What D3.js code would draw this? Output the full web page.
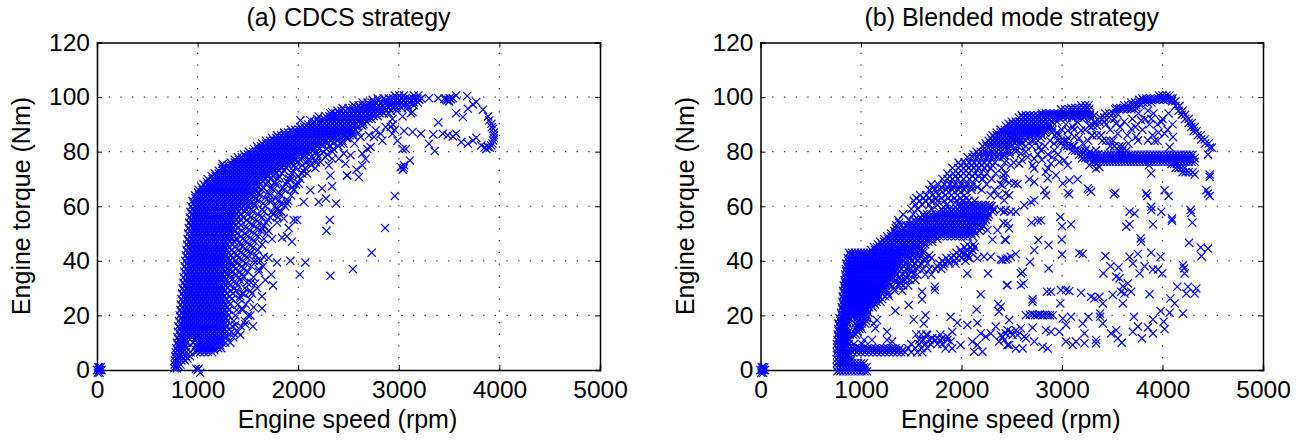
<!DOCTYPE html>
<html>
<head>
<meta charset="utf-8">
<script src="https://cdn.jsdelivr.net/npm/d3@7"></script>
<style>
html, body { margin: 0; padding: 0; background: #fff; }
svg { display: block; }
text { font-family: "Liberation Sans", Arial, sans-serif; fill: #000; }
</style>
</head>
<body>
<svg id="chart" width="1306" height="442"></svg>
<script>
var xTicks = [0, 1000, 2000, 3000, 4000, 5000];
var yTicks = [0, 20, 40, 60, 80, 100, 120];
var xLabel = "Engine speed (rpm)";
var yLabel = "Engine torque (Nm)";
var titleA = "(a) CDCS strategy";
var titleB = "(b) Blended mode strategy";

// engine-off points sit at the origin and near idle
var cdcsOrigin = [[0,0],[12,1],[25,-1],[30,0],[8,-1],[38,1],[18,0],[45,0],[22,1],[985,0.5],[1000,0],[1025,-1],[1010,0.5]];

// solid part of the map, read row by row: [torque, [speeds]]
var cdcsRows = [
[0.6,[770,795]],
[2,[772,798,830]],
[3.5,[775,805,838,875]],
[5,[778,810,845,885,925]],
[6.5,[782,815,850,885,930,985,1025,1065,1105,1145]],
[8,[788,820,855,890,965,1005,1045,1085,1125,1165,1205,1235]],
[10,[795,828,862,892,958,998,1040,1080,1120,1160,1200,1240,1275,1325]],
[12,[800,835,870,905,945,985,1025,1065,1105,1145,1185,1225,1265,1295,1355]],
[14,[805,845,885,925,965,1005,1045,1085,1125,1165,1205,1245,1285,1335,1400]],
[16,[810,840,880,920,960,1000,1040,1080,1120,1160,1200,1240,1285,1345,1430]],
[18,[815,855,895,935,975,1015,1055,1095,1135,1175,1215,1255,1295,1360,1470]],
[20,[822,860,900,940,980,1020,1060,1100,1140,1180,1220,1260,1305,1375,1500]],
[22,[828,868,908,948,988,1028,1068,1108,1148,1188,1228,1268,1310,1390,1445]],
[24,[834,874,914,954,994,1034,1074,1114,1154,1194,1234,1274,1320,1400,1480]],
[26,[840,880,920,960,1000,1040,1080,1120,1160,1200,1240,1280,1340,1420,1520]],
[28,[846,886,926,966,1006,1046,1086,1126,1166,1206,1246,1290,1350,1445,1540]],
[30,[852,892,932,972,1012,1052,1092,1132,1172,1212,1252,1300,1365,1470,1590]],
[32,[858,898,938,978,1018,1058,1098,1138,1178,1218,1258,1310,1385,1490,1530]],
[34,[862,902,942,982,1022,1062,1102,1142,1182,1222,1262,1330,1410,1460,1555]],
[36,[868,908,948,988,1028,1068,1108,1148,1188,1228,1268,1340,1420,1500,1610]],
[38,[872,912,952,992,1032,1072,1112,1152,1192,1232,1272,1350,1440,1535,1650]],
[40,[878,918,958,998,1038,1078,1118,1158,1198,1238,1278,1320,1380,1450,1560,1625]],
[42,[884,924,964,1004,1044,1084,1124,1164,1204,1244,1284,1330,1395,1470,1580]],
[44,[890,930,970,1010,1050,1090,1130,1170,1210,1250,1290,1340,1410,1490,1600]],
[46,[895,935,975,1015,1055,1095,1135,1175,1215,1255,1295,1350,1430,1515,1640]],
[48,[900,940,980,1020,1060,1100,1140,1180,1220,1260,1300,1340,1380,1450,1540,1660]],
[50,[906,946,986,1026,1066,1106,1146,1186,1226,1266,1306,1346,1390,1470,1565,1685]],
[52,[912,952,992,1032,1072,1112,1152,1192,1232,1272,1312,1352,1400,1490,1590,1640]],
[54,[918,958,998,1038,1078,1118,1158,1198,1238,1278,1318,1358,1410,1510,1615,1680,1790]],
[56,[922,962,1002,1042,1082,1122,1162,1202,1242,1282,1322,1362,1402,1450,1530,1640,1720,1800]],
[58,[928,968,1008,1048,1088,1128,1168,1208,1248,1288,1328,1368,1408,1470,1550,1660,1740,1830]],
[60,[935,975,1015,1055,1095,1135,1175,1215,1255,1295,1335,1375,1415,1455,1495,1570,1680,1770,1870]],
[62,[950,990,1030,1070,1110,1150,1190,1230,1270,1310,1350,1390,1430,1470,1510,1600,1710,1800,1900]],
[64,[975,1015,1055,1095,1135,1175,1215,1255,1295,1335,1375,1415,1455,1495,1535,1620,1720,1830,1930]],
[66,[1010,1050,1090,1130,1170,1210,1250,1290,1330,1370,1410,1450,1490,1530,1570,1640,1750,1860,1960]],
[68,[1060,1100,1140,1180,1220,1260,1300,1340,1380,1420,1460,1500,1540,1580,1620,1680,1780,1880,1980]],
[70,[1100,1150,1190,1230,1270,1310,1350,1390,1430,1470,1510,1550,1590,1630,1670,1720,1800,1910,2020]],
[72,[1170,1210,1250,1290,1330,1370,1410,1450,1490,1530,1570,1610,1650,1690,1730,1770,1840,1940,2040]],
[74,[1245,1275,1310,1350,1390,1430,1470,1510,1550,1590,1630,1670,1710,1750,1790,1830,1880,1970,2070,2170]],
[76,[1330,1370,1410,1450,1490,1530,1570,1610,1650,1690,1730,1770,1810,1850,1890,1930,1990,2080,2180]],
[78,[1400,1440,1480,1520,1560,1600,1640,1680,1720,1760,1800,1840,1880,1920,1960,2000,2050,2130,2200,2270]],
[80,[1510,1550,1590,1630,1670,1710,1750,1790,1830,1870,1910,1950,1990,2030,2070,2110,2180,2250,2340]],
[82,[1590,1630,1670,1710,1750,1790,1830,1870,1910,1950,1990,2030,2070,2110,2150,2190,2240,2310,2400]],
[84,[1680,1720,1760,1800,1840,1880,1920,1960,2000,2040,2080,2120,2160,2200,2240,2280,2330,2390,2440]],
[86,[1790,1830,1870,1910,1950,1990,2030,2070,2110,2150,2190,2230,2270,2310,2350,2390,2430,2470,2510,2550]],
[88,[1930,1970,2010,2050,2090,2130,2170,2210,2250,2290,2330,2370,2410,2450,2490,2530,2570]],
[90,[2100,2140,2180,2220,2260,2300,2340,2380,2420,2460,2500,2540,2580,2620,2650]],
[92,[2190,2260,2300,2340,2380,2420,2460,2500,2540,2580,2620,2660,2700,2730]],
[94,[2320,2370,2410,2450,2490,2530,2570,2610,2650,2690,2730,2770,2810,2850,2900]],
[96,[2440,2500,2540,2580,2620,2660,2700,2740,2780,2820,2860,2900,2940,2980,3030,3090]],
[98,[2640,2690,2730,2770,2820,2870,2910,2950,2990,3030,3070,3110,3150,3190]],
[99.5,[2790,2850,2900,2945,2985,3025,3065,3105,3145,3185,3225]],
[100.6,[2960,3005,3050,3150,3195]]
];

// in-between rows, where the crosses overlap into a solid area
var cdcsCoreRows = [
[1.3,[785,812]],
[4.2,[790,820,855,900]],
[7.3,[800,835,870,1005,1045,1085,1125,1165]],
[9,[808,842,875,985,1025,1065,1105,1145,1185,1225]],
[11,[815,850,880,975,1015,1055,1095,1135,1175,1215,1255]],
[13,[825,865,905,945,985,1025,1065,1105,1145,1185,1225,1265]],
[15,[830,870,910,950,990,1030,1070,1110,1150,1190,1230,1270]],
[17,[835,875,915,955,995,1035,1075,1115,1155,1195,1235,1275]],
[19,[840,880,920,960,1000,1040,1080,1120,1160,1200,1240,1280]],
[21,[845,885,925,965,1005,1045,1085,1125,1165,1205,1245,1290]],
[23,[850,890,930,970,1010,1050,1090,1130,1170,1210,1250,1295]],
[25,[858,898,938,978,1018,1058,1098,1138,1178,1218,1258,1310]],
[27,[863,903,943,983,1023,1063,1103,1143,1183,1223,1263,1320]],
[29,[868,908,948,988,1028,1068,1108,1148,1188,1228,1268,1330,1385]],
[31,[875,915,955,995,1035,1075,1115,1155,1195,1235,1275,1320,1400]],
[33,[880,920,960,1000,1040,1080,1120,1160,1200,1240,1280,1340,1420]],
[35,[885,925,965,1005,1045,1085,1125,1165,1205,1245,1285,1325,1370,1440]],
[37,[890,930,970,1010,1050,1090,1130,1170,1210,1250,1290,1330,1380,1460]],
[39,[895,935,975,1015,1055,1095,1135,1175,1215,1255,1295,1335,1395,1480]],
[41,[900,940,980,1020,1060,1100,1140,1180,1220,1260,1300,1350,1410,1500]],
[43,[907,947,987,1027,1067,1107,1147,1187,1227,1267,1307,1360,1430,1530]],
[45,[912,952,992,1032,1072,1112,1152,1192,1232,1272,1312,1370,1450,1550]],
[47,[917,957,997,1037,1077,1117,1157,1197,1237,1277,1317,1365,1420,1480,1570]],
[49,[923,963,1003,1043,1083,1123,1163,1203,1243,1283,1323,1363,1430,1500,1600]],
[51,[929,969,1009,1049,1089,1129,1169,1209,1249,1289,1329,1369,1440,1520,1630]],
[53,[935,975,1015,1055,1095,1135,1175,1215,1255,1295,1335,1375,1430,1550,1660]],
[55,[940,980,1020,1060,1100,1140,1180,1220,1260,1300,1340,1380,1430,1490,1580,1700]],
[57,[945,985,1025,1065,1105,1145,1185,1225,1265,1305,1345,1385,1430,1500,1600,1750]],
[59,[952,992,1032,1072,1112,1152,1192,1232,1272,1312,1352,1392,1432,1480,1530,1640,1790]],
[61,[960,1000,1040,1080,1120,1160,1200,1240,1280,1320,1360,1400,1440,1480,1520,1560,1650,1850]],
[63,[980,1020,1060,1100,1140,1180,1220,1260,1300,1340,1380,1420,1460,1500,1540,1580,1670,1780]],
[65,[1005,1045,1085,1125,1165,1205,1245,1285,1325,1365,1405,1445,1485,1525,1565,1610,1700,1810]],
[67,[1040,1080,1120,1160,1200,1240,1280,1320,1360,1400,1440,1480,1520,1560,1600,1650,1730,1850,1940]],
[69,[1090,1130,1170,1210,1250,1290,1330,1370,1410,1450,1490,1530,1570,1610,1650,1700,1770,1890]],
[71,[1140,1180,1220,1260,1300,1340,1380,1420,1460,1500,1540,1580,1620,1660,1700,1750,1810,1920,2000]],
[73,[1210,1250,1290,1330,1370,1410,1450,1490,1530,1570,1610,1650,1690,1730,1770,1810,1860,1950,2050]],
[75,[1300,1340,1380,1420,1460,1500,1540,1580,1620,1660,1700,1740,1780,1820,1860,1900,1960,2040,2130]],
[77,[1370,1410,1450,1490,1530,1570,1610,1650,1690,1730,1770,1810,1850,1890,1930,1970,2020,2100,2170]],
[79,[1460,1500,1540,1580,1620,1660,1700,1740,1780,1820,1860,1900,1940,1980,2020,2060,2110,2190,2290]],
[81,[1560,1600,1640,1680,1720,1760,1800,1840,1880,1920,1960,2000,2040,2080,2120,2160,2210,2280,2350]],
[83,[1640,1680,1720,1760,1800,1840,1880,1920,1960,2000,2040,2080,2120,2160,2200,2240,2290,2350,2420]],
[85,[1740,1780,1820,1860,1900,1940,1980,2020,2060,2100,2140,2180,2220,2260,2300,2340,2380,2430,2490]],
[87,[1860,1900,1940,1980,2020,2060,2100,2140,2180,2220,2260,2300,2340,2380,2420,2460,2500,2540]],
[89,[2020,2060,2100,2140,2180,2220,2260,2300,2340,2380,2420,2460,2500,2540,2590]],
[91,[2160,2200,2240,2280,2320,2360,2400,2440,2480,2520,2560,2600,2640,2680]],
[93,[2270,2310,2350,2390,2430,2470,2510,2550,2590,2630,2670,2710,2750,2790]],
[95,[2390,2430,2470,2510,2550,2590,2630,2670,2710,2750,2790,2830,2870,2920,2980]],
[97,[2550,2600,2640,2680,2720,2760,2800,2840,2880,2920,2960,3000,3040,3090,3150]],
[99,[2740,2800,2870,2920,2965,3005,3045,3085,3125,3165,3205]]
];

// single crosses away from the solid part
var cdcsScatter = [
[3300,99.6],[3393,99.6],[3453,99.4],[3470,99.2],[3490,99],[3505,99.6],[3520,99.2],[3537,99.6],[3480,98.8],[3500,98.4],
[3570,100.6],[3680,100.4],[3770,98.2],[3737,97.3],[3687,95.7],[3570,94.1],[3637,92.7],[3393,90.7],[3837,95.4],[3887,92.9],
[3900,91.5],[3920,90.2],[3925,89],[3937,88.4],[3945,87],[3947,86],[3945,85],[3937,84.1],[3930,83],[3920,82.3],[3905,81.5],
[3887,81.7],[3870,81],[3853,81.5],[3820,82.3],[3770,85.1],[3737,84.1],[3687,82.9],[3620,83.5],[3570,86.6],[3537,85.6],
[3487,86],[3437,86.6],[3343,86.3],[3220,86.6],[3137,87.2],[3053,87.6],[3300,82.9],[3357,80.2],[3037,81],[3070,81],[3110,76.8],
[3053,75],[3020,74.4],[3040,73.4],[3050,74],[2960,63.8],[2863,52],[2730,43],[2543,37],
[3120,94.1],[3137,94.5],[3037,92.9],[2937,92],[2920,89],[2870,89],[2937,86.6],[2987,84],[2820,86.6],[2770,87.8],[2753,85.4],
[2703,86],[2637,89.6],[2620,85.4],[2837,84],[2720,81.7],[2687,81],[2637,79.3],[2670,77.4],[2637,75],[2580,73.4],[2603,70.7],
[2487,71.3],[2520,78.7],[2470,75.6],[2940,90],[2960,88],[2600,87],[2560,83],[2520,88],[2480,85],[2450,83],[2540,86],
[1374,16.5],[1424,12.8],[1358,13.4],[1474,16.8],[1550,16],[1441,22.6],[1524,20],[1557,23],[1640,22.6],[1640,27],[1524,29],
[1457,28],[1424,27],[1574,31.7],[1673,33],[1733,35],[1750,31],[1607,37],[1657,41.5],[1590,40],[1706,41],[1790,39.4],[1922,40],
[2071,39.4],[2015,35],[2320,34.5],[2281,51],[2314,55],[1938,47],[1889,49],[1839,48.5],[1740,48],[1706,51],[1906,52],[1989,55],
[1955,55],[1889,61],[1823,61],[2055,61.6],[2204,61.6],[2277,62.8],[2377,61],[2121,65.9],[2237,66.5],[2337,67.3],[2320,71.3],
[2487,71.3],[2404,77.4],[2304,75],[1856,55.5],[1806,58],[1740,62],[1955,66],[2005,68.3],[1922,69.5],[2088,72],[2121,76.8],
[2221,76.2],[2337,77.4],[2453,79.3],[2022,91.5],[2121,91.5],[2204,92.9],[2337,94.5],[1258,74.6],[1248,75.5],[1270,73.8]
];

var blendedOrigin = [[0,0],[12,1],[25,-1],[30,0],[8,-1],[38,1],[18,0],[45,0],[22,1]];

var blendedRows = [
[-0.5,[765,795,825,855,885,915,945,975,1005,1035,1060]],
[1,[760,790,820,850,880,910,940,970,1000,1030,1055]],
[2.5,[762,792,822,852,882,912,942,972,1002,1030]],
[4,[760,790,820,850,880,905]],
[5.5,[762,792,822,852,875]],
[6.5,[760,790,820,850,880,920,960,1000,1040,1080,1120,1160,1200,1240,1280,1320,1360,1400,1440,1500,1560,1610]],
[8,[765,795,825,855,885,915,945,985,1025,1065,1105,1145,1185,1225,1265,1305,1345,1385,1470,1540,1600,1660]],
[9.5,[760,790,820,850,880,930,1010,1500,1580,1640,1690,1760,1810]],
[11,[765,795,825,855,885,1030,1580,1620,1680,1740,1790,1860]],
[13,[768,798,828,858,890,920,950,1550,1600,1650,1790]],
[15,[772,802,832,862,955,985,1010]],
[17,[775,805,835,865,945,975,1005,1040]],
[19,[785,815,845,875,960,990,1020,1055]],
[21,[800,830,860,890,920,950,980,1010,1040,1075]],
[23,[808,838,868,898,928,958,988,1018,1048,1078,1118]],
[25,[815,845,875,905,935,965,995,1025,1055,1085,1115,1155,1195]],
[27,[818,848,878,908,938,968,998,1028,1058,1088,1118,1148,1180,1240,1280]],
[29,[822,852,882,912,942,972,1002,1032,1062,1092,1122,1152,1182,1212,1260,1335,1410]],
[31,[828,858,888,918,948,978,1008,1038,1068,1098,1128,1158,1188,1218,1248,1290,1380,1420,1470]],
[33,[838,868,898,928,958,988,1018,1048,1078,1108,1138,1168,1198,1228,1258,1300,1340,1400,1440,1490,1540]],
[35,[842,872,902,932,962,992,1022,1052,1082,1112,1142,1172,1202,1232,1262,1292,1322,1360,1420,1470,1520,1560,1640,1700]],
[37,[848,878,908,938,968,998,1028,1058,1088,1118,1148,1178,1208,1238,1268,1298,1328,1358,1400,1450,1500,1560,1620,1680,1740,1800]],
[39,[855,885,915,945,975,1005,1035,1065,1095,1125,1155,1185,1215,1245,1275,1305,1335,1365,1395,1440,1490,1540,1600,1660,1780,1830,1880,1940]],
[41,[868,898,928,958,988,1018,1048,1078,1108,1138,1168,1198,1228,1258,1288,1318,1348,1378,1408,1438,1480,1530,1580,1640,1700,1850,1900,1950,2000,2080]],
[43,[880,910,940,970,1000,1030,1060,1090,1120,1150,1180,1210,1240,1270,1300,1330,1360,1390,1420,1450,1490,1530,1570,1620,1950,2000,2040,2100]],
[45,[1130,1160,1190,1220,1250,1280,1310,1340,1370,1400,1430,1460,1490,1520,1550,1590,2030,2090,2130]],
[47,[1190,1230,1270,1310,1350,1390,1430,1470,1510,1550,1590,1630,1670,1710]],
[49,[1260,1300,1340,1380,1420,1460,1500,1540,1580,1620,1660,1700,1740,1780,1820,1860,1900,1940,1980,2020,2060,2110]],
[51,[1330,1370,1410,1450,1490,1530,1570,1610,1650,1690,1730,1770,1810,1850,1890,1930,1970,2010,2050,2090,2130,2180]],
[53,[1350,1400,1450,1490,1530,1570,1610,1650,1690,1730,1770,1810,1850,1890,1930,1970,2010,2050,2090,2130,2170,2215]],
[55,[1370,1480,1530,1570,1610,1650,1690,1730,1770,1810,1850,1890,1930,1970,2010,2050,2090,2130,2170,2210,2245]],
[57,[1420,1520,1620,1660,1700,1740,1780,1820,1860,1900,1940,1980,2020,2060,2100,2140,2180,2220,2270]],
[59,[1500,1560,1700,1800,1840,1880,1920,1960,2000,2040,2080,2120,2160,2200,2240,2280,2320]],
[60.5,[1540,1610,1680,1760,1850,1960,2000,2040,2080,2120,2160,2200,2240,2280]],
[62,[1525,1580,1640,1700,1760,1830,1890,1950,2010,2070,2130]],
[64,[1590,1650,1710,1770,1840,1900,1960,2030,2290,2360]],
[66,[1680,1730,1790,1850,1910,1970,2030,2100,2200,2330]],
[68,[1700,1770,1830,1880,1930,1990,2050,2110,2250,2390]],
[70,[1810,1860,1910,1960,2020,2080,2140,2210,2300,2420]],
[72,[1860,1920,1970,2020,2070,2130,2190,2250,2340]],
[74,[1910,1970,2020,2070,2120,2170,2230,2290,2400]],
[76,[1970,2030,2080,2130,2180,2230,2280,2330,2430]],
[78,[2060,2110,2160,2210,2260,2310,2360,2410]],
[80,[2150,2190,2230,2270,2310,2350,2390,2430,2480,2540]],
[82,[2210,2250,2290,2330,2370,2410,2450,2490,2560,2640,2700]],
[84,[2270,2310,2350,2390,2430,2470,2510,2550,2590,2640,2700,2760]],
[86,[2310,2350,2390,2430,2470,2510,2550,2590,2630,2670,2710,2750,2800,2930,2965,3300,3345,3390]],
[88,[2390,2430,2470,2510,2550,2590,2630,2670,2710,2750,2790,2830,2880,2905,3000,3120]],
[89.5,[2440,2490,2530,2570,2610,2650,2690,2730,2770,2810,2850,2880,3270,3310,3350]],
[91,[2500,2540,2580,2620,2660,2700,2740,2780,2820,2860,2900,2950,3330,3370,3420]],
[92.5,[2570,2610,2650,2690,2730,2770,2810,2850,2890,2930,2970,3010,3050,3100,3160,3220,3280,3380,3420,3470]],
[94,[2800,2840,2880,2920,2960,3000,3040,3080,3120,3160,3200,3240,3280,3430,3470,3510,3550]],
[95.5,[2990,3030,3070,3110,3150,3190,3230,3270,3530,3570,3610,3650,3690]],
[97,[3190,3230,3265,3620,3660,3700,3740,3780]],
[98,[3690,3730,3770,3810,3850,3890]],
[99.5,[3800,3840,3880,3920,3960,4000,4040,4080,4100]],
[100.6,[3965,4000,4040,4070]],
// thick flat line and the branches around it
[75.5,[4090,4115,4140]],
[74,[4130,4160,4190,4220]],
[72.5,[4200,4230,4260,4300]],
[76.3,[3300,3330,3360,3390,3420,3450,3480,3510,3540,3570,3600,3630,3660,3690,3720,3750,3780,3810,3840,3870,3900,3930,3960,3990,4020,4050,4080,4110,4140,4170,4200,4230,4260,4290,4320]],
[77.6,[3200,3230,3260,3290,3320,3350,3380,3410,3440,3470,3500,3530,3560,3590,3620,3650,3680,3710,3740,3770,3800,3830,3860,3890,3920,3950,3980,4010,4040,4070,4100,4130,4160,4190,4220,4250,4280,4320]],
[78.9,[3170,3200,3240,3270,3300,3330,3360,3400,3430,3460,3490,3520,3550,3580,3610,3640,3670,3700,3730,3760,3790,3820,3850,3880,3910,3940,3970,4000,4030,4060,4090,4120,4150,4180,4210,4240,4270,4300]],
[80.3,[3100,3130,3160,3190,3230,3570,3600,3640]],
[82,[3020,3050,3080,3110,3480,3520,3570]],
[84,[2960,2990,3020,3050,3400,3440,3480,3510]],
[87.5,[4310,4340]],[86,[4350,4380]],[84.5,[4385,4420]],[83,[4425,4460]],[81.5,[4470,4490]],
[98.5,[4095,4130]],[96.8,[4130,4170]],[95,[4160,4200]],[93.5,[4190,4225]],[92,[4225,4260]],[90.5,[4260,4290]],[89,[4285,4320]]
];

// in-between rows for the solid areas of panel (b)
var blendedCoreRows = [
[3.2,[775,805,835,865,895]],
[7.3,[775,805,835,865,895,935,975,1015,1055,1095,1135,1175,1215,1255,1295,1335,1375,1415]],
[10.5,[775,805,835,865]],
[12,[780,810,840,870]],
[14,[785,815,845,875,965]],
[16,[790,820,850,965,995]],
[18,[795,825,855,880,970,1010,1050]],
[20,[810,840,870,900,930,960,990,1020,1060]],
[22,[820,850,880,910,940,970,1000,1030,1060]],
[24,[825,855,885,915,945,975,1005,1035,1065,1100,1140]],
[26,[830,860,890,920,950,980,1010,1040,1070,1100,1130,1170,1210]],
[28,[835,865,895,925,955,985,1015,1045,1075,1105,1135,1165,1205,1270]],
[30,[840,870,900,930,960,990,1020,1050,1080,1110,1140,1170,1200,1240,1330]],
[32,[845,875,905,935,965,995,1025,1055,1085,1115,1145,1175,1205,1240,1280,1350,1390]],
[34,[850,880,910,940,970,1000,1030,1060,1090,1120,1150,1180,1210,1240,1270,1310,1380,1450]],
[36,[855,885,915,945,975,1005,1035,1065,1095,1125,1155,1185,1215,1245,1275,1305,1340,1430,1510]],
[38,[860,890,920,950,980,1010,1040,1070,1100,1130,1160,1190,1220,1250,1280,1310,1340,1375,1430,1510,1570,1760,1820]],
[40,[870,900,930,960,990,1020,1050,1080,1110,1140,1170,1200,1230,1260,1290,1320,1350,1380,1420,1500,1560,1640,1810,1870,1930,2040]],
[42,[895,925,955,985,1015,1045,1075,1105,1135,1165,1195,1225,1255,1285,1315,1345,1375,1405,1435,1470,1520,1580,1680,1920,1980,2060]],
[44,[1100,1140,1180,1220,1260,1300,1340,1380,1420,1460,1500,1540,1590,1620,1990,2050,2110]],
[46,[1170,1210,1250,1290,1330,1370,1410,1450,1490,1530,1570,1610,1640,2060,2120]],
[48,[1230,1270,1310,1350,1390,1430,1470,1510,1550,1590,1630,1670,1710,1760]],
[50,[1300,1340,1380,1420,1460,1500,1540,1580,1620,1660,1700,1740,1780,1820,1860,1900,1940,1980,2020,2060,2100,2140]],
[52,[1345,1420,1470,1510,1550,1590,1630,1670,1710,1750,1790,1830,1870,1910,1950,1990,2030,2070,2110,2150,2200]],
[54,[1380,1500,1550,1590,1630,1670,1710,1750,1790,1830,1870,1910,1950,1990,2030,2070,2110,2150,2190,2230]],
[56,[1590,1630,1670,1710,1750,1790,1830,1870,1910,1950,1990,2030,2070,2110,2150,2190,2230,2260]],
[58,[1780,1820,1860,1900,1940,1980,2020,2060,2100,2140,2180,2220,2260,2310]],
[60,[1990,2030,2070,2110,2150,2190,2230,2270,2300]],
[63,[1550,1620,1680,1750,1800,1870,1930,1990,2050]],
[67,[1720,1800,1860,1920,1980,2040,2100,2160]],
[71,[1880,1940,1990,2050,2110,2170,2230]],
[75,[1990,2050,2100,2150,2200,2250,2310]],
[79,[2120,2170,2220,2270,2320,2370,2420]],
[83,[2240,2290,2330,2370,2410,2450,2490,2530,2570]],
[85,[2290,2330,2370,2410,2450,2490,2530,2570,2610,2650]],
[87,[2350,2390,2430,2470,2510,2550,2590,2630,2670,2710,2750,2790,2830,2900,2950]],
[90.2,[2470,2510,2550,2590,2630,2670,2710,2750,2790,2830,2870]],
[93.3,[2600,2640,2680,2720,2760,2800,2840,2880,2920,2960,3000,3040,3080,3120,3160,3200,3240,3280,3320]],
[96,[3090,3130,3170,3210,3250,3540,3580,3620,3660,3700,3740]],
[99,[3770,3810,3850,3890,3930,3970,4010,4050,4090]]
];

var blendedScatter = [
[3057,64.9],[3073,64.4],[3256,66.5],[3270,66],[3289,65.3],[3516,64.4],[3530,64.9],[3838,64.7],[3848,63.8],[4021,65.9],[4061,63.8],
[4453,64.7],[4437,65.9],[4470,63.8],[4470,71.6],[4470,70.8],[4453,79],[4320,71.6],[3888,72],[3865,75],[3372,74.4],[3273,75],[3339,73.8],
[3156,69.9],[3073,69.5],[3007,68.3],[2940,71.4],[2840,72.6],[2857,70.2],[2824,65.9],[2840,64],[2707,75],[2724,73.8],[2591,79.3],
[2574,75.6],[2491,75],[2425,78.7],[2441,72],[2524,68.3],[2474,68.6],[2558,68.1],[2724,68.9],[2674,69.9],[2418,71.4],[2408,67.7],
[2441,64.7],[2474,64],[2425,62.2],[2691,61.6],[2724,62.2],[2624,60.4],[2541,58],[2491,58],[2441,58.6],[2391,58.6],
[2983,56.1],[3000,52.7],[3090,53.4],[2790,54.9],[2757,54.7],[2697,54],[2418,53.9],[2474,51.9],[2431,47.8],[2764,47.6],[2867,45.8],
[2997,47.8],[2724,43.9],[3000,42.3],[3173,42.9],[3206,42.5],[3432,41.8],[3672,41.5],[3755,42.5],[3888,43],[3981,41.5],[3705,39],
[3782,48.2],[3788,47],[3639,52.5],[3672,53.4],[3672,58],[3722,57.3],[3888,59.8],[3888,58.6],[3988,58],[3905,53.4],[4094,54.7],
[4094,55.5],[4280,58.6],[4287,57.6],[4297,54],[4264,46.6],[4380,44.9],[4453,44.5],[4387,41.7],[4204,38.4],[4214,37.2],[4220,35.4],
[3822,38],[3905,36.8],[3955,36.8],[3998,35.4],[3772,35.4],[3562,37.6],[3482,38],[3412,35.4],[3539,34.2],[3572,33.6],
[3655,31.7],[3605,30.7],[3688,28.7],[3622,28],[3505,27.5],[3589,28.7],[3871,27.8],[4147,30.5],[4254,30.5],[4337,29.9],[4237,28],
[4320,28],[4078,26.2],[4121,24.4],[3605,24.4],[3981,21.6],[4071,21],[4204,20.7],[3905,18.5],[4011,17.7],[4021,15],[3855,15.6],
[3755,15.9],[3715,19.5],[3705,14],[3905,13.4],[3795,11.6],[3539,14.6],[3489,13.4],[3555,11.6],[3595,10],[3406,24.4],[3372,26.8],
[3323,26.2],[3289,26.8],[3190,28.3],[3073,28.9],[3040,29.3],[2990,29.3],[2890,28.7],[2850,28.7],[2983,24.4],[2707,25.9],[2707,25],
[2867,37.2],[2681,39.6],[2608,36],[2591,35.4],[2618,31.7],[2591,31.1],[2451,31.1],[2541,42.5],[2491,41.5],[2441,40.5],[2391,40.5],
[2641,20.1],[2707,20.4],[2757,20.1],[2807,20.1],[2857,20.1],[2907,20.1],[2680,20.2],[2730,20.1],[2780,20.3],[2830,20.2],[2880,20.1],
[3007,18.9],[3090,19.5],[3040,16.5],[3263,19.5],[3206,17],[3223,13.4],[3140,10.4],[3106,9.2],[3040,10.4],[2973,14],[2890,14],[2840,14.6],
[2707,15.5],[2724,10.4],[2641,11.6],[2857,7.9],[2807,8.5],[2608,7.9],[2541,7.9],[2474,9.2],[2425,11],[2474,18.3],[2391,23.2],
[2591,15.3],[2541,14.6],[2491,14],[2441,13.4],[2391,12.8],[2624,12.2],[2558,12.8],[2508,12.8],[3339,11],[3339,9.8],[3223,9.8],
[3379,20.7],[3406,17],[3379,19.5],
[1525,18.5],[1642,20.1],[1625,17],[1891,19.5],[1958,17.3],[2058,16.5],[2158,17.3],[2151,22.2],[2364,24.2],[2374,21.4],[2191,27.8],
[2058,35.4],[2264,35.4],[2458,31.1],[1735,30.5],[1735,29.3],[1608,25.9],[1608,28.7],[1475,23.8],[1342,21.7],[1259,14],[1159,18.3],
[1126,17],[1142,15.3],[1109,11],[1259,11],[1309,10.4],
[1658,12.8],[1708,11.6],[1758,11.6],[1808,11.6],[1858,12.2],[1908,14],[1891,10.4],[1841,7.9],[1908,7.9],[1991,9.2],[2108,10.4],
[2158,9.2],[2125,6.7],[2208,6.7],[2191,13.4],[2241,12.2],[2291,13.4],[2341,15.9],[2374,10.4],[2458,14.6],[2458,9.2],[2408,12.2],
[2058,41.5],[2158,40.9],[2224,41.5],[2291,41.5],[2408,40.3],[2458,40.9],[2308,47.8],[2441,47.6],[2358,51.2],[2458,53.7],[2258,51.2],
[2158,54.9],[2424,58],[2291,59.8],
[3738,85.4],[3755,84.1],[3855,84.1],[3921,83.9],[4071,81.7],[4104,85.4],[4021,86.6],[3988,90.9],[3888,92],[3788,91.5],[3688,88.4],
[3855,95],[3539,90.3],[3555,86.6],[3057,87.8],[3123,85.4],[3190,87.8],[3289,89],[3206,83],[3339,80.5],[2990,83],[2924,80.5],[2774,81.7],
[2724,84.1],[2724,77.4],[2790,80.5],[2890,75.6],[2973,76.2],[3057,75],[3023,76.9],
[2450,82],[2500,85],[2480,79],[2540,81],[2600,83],[2640,80],[2680,86],[2740,88],[2790,85],[2830,82],[2860,79],[2830,87],[2880,84],
[2920,83],[2960,79],[2600,77],[2660,78],[2520,76],[2760,79],[2800,77],[2900,78],[2860,74],
[3040,90],[3070,93],[3110,89],[3150,91],[3170,85],[3200,92],[3230,88],[3260,84],[3290,92],[3300,86],[3120,82],[3060,85],[3240,81],[3280,80],
[3440,90],[3480,88],[3520,92],[3580,89],[3620,91],[3650,86],[3700,92],[3730,89],[3760,94],[3800,88],[3830,92],[3870,90],[3910,94],
[3950,90],[3960,87],[4000,92],[4050,88],[4060,94],[4100,90],[3900,86],[3950,84],[3660,83],[3600,82]
];

function flatten(rows) {
    return rows.flatMap(function (row) {
        return row[1].map(function (speed) { return [speed, row[0]]; });
    });
}

var svg = d3.select("#chart");
var xMax = xTicks[xTicks.length - 1], yMax = yTicks[yTicks.length - 1];
var plotTop = 42.5, plotBottom = 370;

var crossPath = d3.symbol().type(d3.symbolTimes).size(45)();

function drawPanel(left, right, title, points) {
    var x = d3.scaleLinear().domain([0, xMax]).range([left, right]),
        y = d3.scaleLinear().domain([0, yMax]).range([plotBottom, plotTop]);

    var g = svg.append("g");

    // dotted grid
    g.append("g").selectAll("line").data(xTicks.slice(1, -1)).enter().append("line")
        .attr("x1", function (d) { return x(d); }).attr("x2", function (d) { return x(d); })
        .attr("y1", plotBottom).attr("y2", plotTop);
    g.append("g").selectAll("line").data(yTicks.slice(1, -1)).enter().append("line")
        .attr("x1", left).attr("x2", right)
        .attr("y1", function (d) { return y(d); }).attr("y2", function (d) { return y(d); });
    g.selectAll("line")
        .attr("stroke", "#333")
        .attr("stroke-width", 1.2)
        .attr("stroke-dasharray", "1.3 10.4");

    // axes, ticks point inwards
    var fmt = d3.format("d");
    var bottom = d3.axisBottom(x).tickValues(xTicks).tickFormat(fmt).tickSize(-5).tickPadding(10.5);
    var leftAxis = d3.axisLeft(y).tickValues(yTicks).tickFormat(fmt).tickSize(-5).tickPadding(7);
    var topAxis = d3.axisTop(x).tickValues(xTicks).tickSize(-5).tickFormat("");
    var rightAxis = d3.axisRight(y).tickValues(yTicks).tickSize(-5).tickFormat("");

    var axes = [
        g.append("g").attr("transform", "translate(0," + plotBottom + ")").call(bottom),
        g.append("g").attr("transform", "translate(" + left + ",0)").call(leftAxis),
        g.append("g").attr("transform", "translate(0," + plotTop + ")").call(topAxis),
        g.append("g").attr("transform", "translate(" + right + ",0)").call(rightAxis)
    ];
    axes.forEach(function (a) {
        a.attr("font-family", null).attr("font-size", null);
        a.selectAll(".domain").attr("stroke", "#000").attr("stroke-width", 1.5);
        a.selectAll(".tick line").attr("stroke", "#000").attr("stroke-width", 1);
        a.selectAll("text").style("font-size", "24.5px");
    });

    g.append("g").selectAll("path").data(points).enter().append("path")
        .attr("d", crossPath)
        .attr("transform", function (d) { return "translate(" + x(d[0]) + "," + y(d[1]) + ")"; })
        .attr("fill", "none")
        .attr("stroke", "#0000ff")
        .attr("stroke-width", 1.2);

    g.append("text")
        .attr("x", (left + right) / 2).attr("y", 26)
        .attr("text-anchor", "middle")
        .style("font-size", "25px")
        .text(title);
    g.append("text")
        .attr("x", (left + right) / 2 - 1).attr("y", 428)
        .attr("text-anchor", "middle")
        .style("font-size", "25px")
        .text(xLabel);
    g.append("text")
        .attr("transform", "translate(" + (left - 67) + "," + 206 + ") rotate(-90)")
        .attr("text-anchor", "middle")
        .style("font-size", "25px")
        .text(yLabel);
}

drawPanel(97, 600, titleA, cdcsOrigin.concat(flatten(cdcsRows), flatten(cdcsCoreRows), cdcsScatter));
drawPanel(760.5, 1263, titleB, blendedOrigin.concat(flatten(blendedRows), flatten(blendedCoreRows), blendedScatter));
</script>
</body>
</html>
